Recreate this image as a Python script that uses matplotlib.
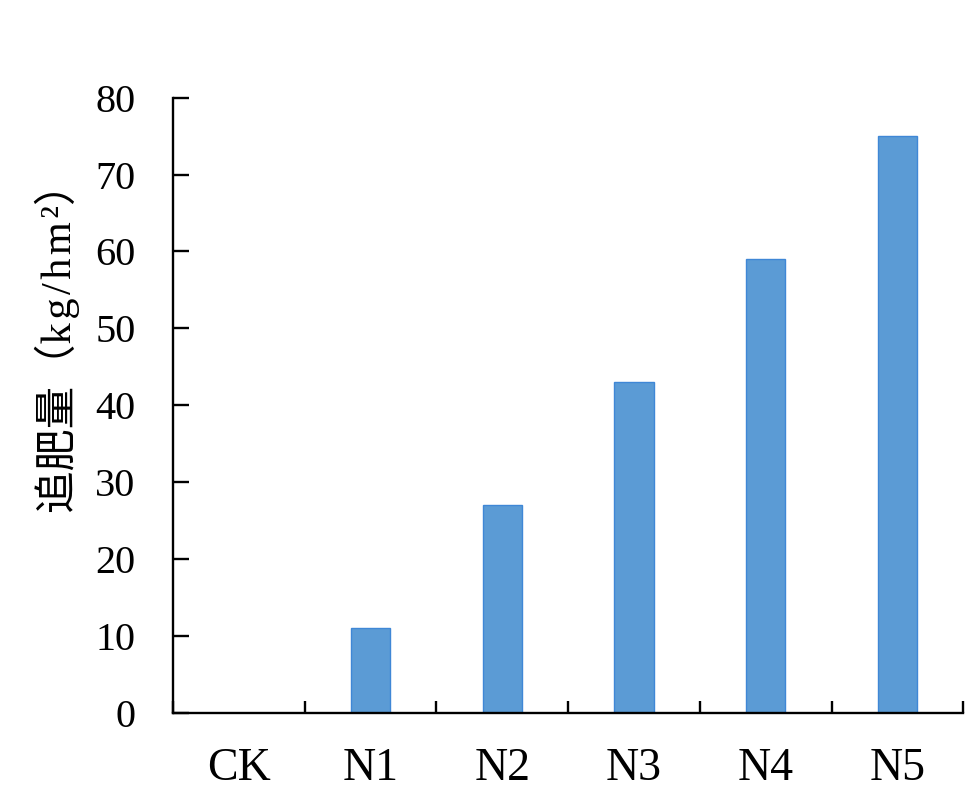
import numpy as np
import matplotlib.pyplot as plt

# Data
categories = ["CK", "N1", "N2", "N3", "N4", "N5"]
topdress = [0, 11, 27, 43, 59, 75]   # kg/hm2
y_ticks = [0, 10, 20, 30, 40, 50, 60, 70, 80]

serif = ["Liberation Serif", "Noto Sans CJK SC", "DejaVu Sans"]
plt.rcParams["font.family"] = serif

fig = plt.figure(figsize=(9.72, 7.94), dpi=100)
ax = fig.add_axes([0.178, 0.102, 0.813, 0.775])

x = np.arange(len(categories))
ax.bar(x, topdress, width=0.3, color="#5B9BD5", edgecolor="#3F87D6", linewidth=1.0)

ax.set_xlim(-0.5, len(categories) - 0.5)
ax.set_ylim(0, 80)
ax.set_yticks(y_ticks)
ax.set_xticks(x)
ax.set_xticklabels(categories)
ax.set_xticks(np.arange(-0.5, len(categories)), minor=True)

for s in ["top", "right"]:
    ax.spines[s].set_visible(False)
for s in ["left", "bottom"]:
    ax.spines[s].set_linewidth(1.7)

ax.tick_params(axis="y", direction="in", length=11.5, width=1.7, pad=27, labelsize=29)
ax.tick_params(axis="x", which="major", length=0, pad=25, labelsize=33)
ax.tick_params(axis="x", which="minor", direction="in", length=9, width=1.7)

# hair spaces spread the unit letters a little, like the original
hs = "\u200a"
ylabel = "追肥量（" + hs.join("kg/hm²") + "）"
fig.text(0.059, 0.574, ylabel, rotation=90, ha="center", va="center",
         fontsize=30.5, family=serif)

fig.savefig("out.png", dpi=100)
